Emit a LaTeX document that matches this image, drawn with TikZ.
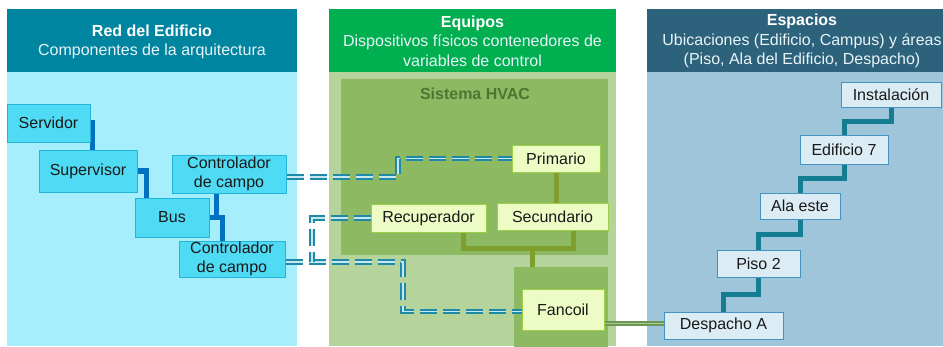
\documentclass[tikz,border=0pt]{standalone}
\usepackage{fontspec}
\setmainfont{Liberation Sans}
\usetikzlibrary{calc}
\definecolor{lHead}{RGB}{0,133,161}
\definecolor{lBody}{RGB}{166,238,252}
\definecolor{lNodeF}{RGB}{80,219,245}
\definecolor{lNodeB}{RGB}{34,181,217}
\definecolor{blueC}{RGB}{0,112,192}
\definecolor{mHead}{RGB}{0,176,80}
\definecolor{mBody}{RGB}{181,212,156}
\definecolor{hvacF}{RGB}{140,185,98}
\definecolor{hvacT}{RGB}{78,118,48}
\definecolor{mNodeF}{RGB}{236,252,196}
\definecolor{mNodeB}{RGB}{155,208,70}
\definecolor{greenC}{RGB}{126,158,46}
\definecolor{rHead}{RGB}{45,98,124}
\definecolor{rBody}{RGB}{158,197,218}
\definecolor{rNodeF}{RGB}{220,236,245}
\definecolor{rNodeB}{RGB}{68,147,192}
\definecolor{stairC}{RGB}{20,125,146}
\definecolor{dashC}{RGB}{30,138,168}
\definecolor{dashIn}{RGB}{200,232,240}
\definecolor{linkC}{RGB}{108,150,86}
\definecolor{linkIn}{RGB}{170,202,144}
\definecolor{subT}{RGB}{232,244,246}
\pgfdeclarelayer{panels}
\pgfdeclarelayer{lines}
\pgfsetlayers{panels,lines,main}
\begin{document}
\begin{tikzpicture}[x=1pt,y=-1pt,
  font=\fontsize{16}{19.5}\selectfont,
  lnode/.style={draw=lNodeB, fill=lNodeF, line width=1pt, inner sep=0pt, align=center, text=black!90},
  mnode/.style={draw=mNodeB, fill=mNodeF, line width=1pt, inner sep=0pt, align=center, text=black!90},
  rnode/.style={draw=rNodeB, fill=rNodeF, line width=1pt, inner sep=0pt, align=center, text=black!90},
  headtxt/.style={align=center, text=subT, inner sep=0pt},
  blueline/.style={draw=blueC, line width=5.5pt},
  greenline/.style={draw=greenC, line width=5pt},
  stairline/.style={draw=stairC, line width=5pt},
  tealdash/.style={draw=dashC, line width=1.8pt, double=dashIn, double distance=1.5pt, dash pattern=on 17pt off 6pt},
  linkline/.style={draw=linkC, line width=1.6pt, double=linkIn, double distance=1.6pt}]
\useasboundingbox (0,0) rectangle (943,346);

\begin{pgfonlayer}{panels}
\fill[white] (0,0) rectangle (943,346);
% left panel
\fill[lBody] (7,72) rectangle (297,346);
\fill[lHead] (7,9) rectangle (297,72);
% middle panel
\fill[mBody] (329,72) rectangle (616,346);
\fill[mHead] (329,9) rectangle (616,72);
% right panel
\fill[rBody] (647,72) rectangle (960,346);
\fill[rHead] (647,9) rectangle (960,72);
\node[fill=hvacF, inner sep=0pt, minimum width=267pt, minimum height=176pt, anchor=north west] (hvac) at (341,79) {};
\node[fill=hvacF, inner sep=0pt, minimum width=94pt, minimum height=80pt, anchor=north west] (fcbox) at (514,267) {};
\end{pgfonlayer}

% header texts
\node[headtxt] (hL) at (152,42) {\textbf{\color{white}Red del Edificio}\\Componentes de la arquitectura};
\node[headtxt] (hM) at (472.5,41) {\textbf{\color{white}Equipos}\\Dispositivos físicos contenedores de\\variables de control};
\node[headtxt] (hR) at (802,41) {\textbf{\color{white}Espacios}\\Ubicaciones (Edificio, Campus) y áreas\\(Piso, Ala del Edificio, Despacho)};
\node[text=hvacT, inner sep=0pt] (hvacL) at (475,94) {\textbf{Sistema HVAC}};

% left nodes
\node[lnode, minimum width=83pt, minimum height=38pt] (serv) at (48.5,123) {Servidor};
\node[lnode, minimum width=98pt, minimum height=42pt] (sup) at (88,171) {Supervisor};
\node[lnode, minimum width=74pt, minimum height=39pt] (bus) at (172,217.5) {Bus};
\node[lnode, minimum width=114pt, minimum height=38pt] (ctrlA) at (229,174) {Controlador\\de campo};
\node[lnode, minimum width=106pt, minimum height=36pt] (ctrlB) at (232,259) {Controlador\\de campo};

% middle nodes
\node[mnode, minimum width=88pt, minimum height=27pt] (prim) at (556,158.5) {Primario};
\node[mnode, minimum width=111pt, minimum height=27pt] (sec) at (552.5,216.5) {Secundario};
\node[mnode, minimum width=115pt, minimum height=28pt] (rec) at (428.5,218) {Recuperador};
\node[mnode, minimum width=82pt, minimum height=41pt] (fan) at (563,309.5) {Fancoil};

% right nodes
\node[rnode, minimum width=100pt, minimum height=25pt] (inst) at (891,94.5) {Instalación};
\node[rnode, minimum width=88pt, minimum height=29pt] (edif) at (844,149.5) {Edificio 7};
\node[rnode, minimum width=80pt, minimum height=26pt] (ala) at (800,206) {Ala este};
\node[rnode, minimum width=83pt, minimum height=27pt] (piso) at (758.5,263.5) {Piso 2};
\node[rnode, minimum width=119pt, minimum height=27pt] (desp) at (723.5,325.5) {Despacho A};

% coordinates
\coordinate (ca) at ($(ctrlA.south west)+(45,0)$);
\coordinate (bendA) at (398,0);
\coordinate (bendB) at (403,0);
\coordinate (bendC) at (312,0);
\coordinate (recB) at ($(rec.south)+(34.5,0)$);
\coordinate (secB) at ($(sec.south)+(20.5,0)$);
\coordinate (bar) at (532,248);
\coordinate (fanL) at ($(fan.south east)+(0,-7)$);
\coordinate (aL) at ($(ctrlA.east)+(0,3)$);
\coordinate (bL) at ($(ctrlB.east)+(0,3)$);
\coordinate (fW) at ($(fan.west)+(0,2)$);

\begin{pgfonlayer}{lines}
% left tree
\draw[blueline] (serv.east) -| ($(sup.north west)+(54,0)$);
\draw[blueline] (sup.east) -| ($(bus.north west)+(12,0)$);
\draw[blueline] (bus.east) -| ($(ctrlB.north west)+(44,0)$);
\draw[blueline] (ca) -- (ca |- bus.east);
% hvac tree
\draw[greenline] (prim.south) -- (prim.south |- sec.north);
\draw[greenline] (recB) |- (bar) -| (secB);
\draw[greenline] (bar) -- (bar |- fcbox.north);
% stairs
\draw[stairline] (inst.south) |- ($(inst.south)!.5!(edif.north)$) -| (edif.north);
\draw[stairline] (edif.south) |- ($(edif.south)!.5!(ala.north)$) -| (ala.north);
\draw[stairline] (ala.south) |- ($(ala.south)!.5!(piso.north)$) -| (piso.north);
\draw[stairline] (piso.south) |- ($(piso.south)!.5!(desp.north)$) -| (desp.north);
% double dashed links
\draw[tealdash] (aL) -- (aL -| bendA) -- (prim.west -| bendA) -- (prim.west);
\draw[tealdash] (bL) -- (bL -| bendB) -- (fW -| bendB) -- (fW);
\draw[tealdash] (rec.west) -- (rec.west -| bendC) -- (bL -| bendC);
% fancoil to despacho
\draw[linkline] (fanL) -- (desp.west |- fanL);
\end{pgfonlayer}
\end{tikzpicture}
\end{document}
